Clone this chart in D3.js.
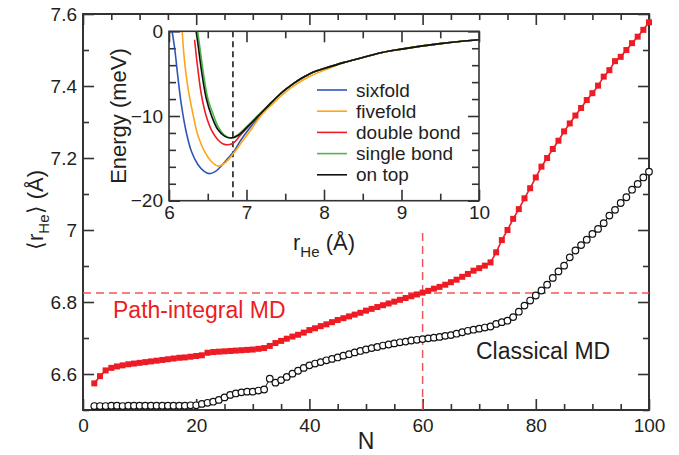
<!DOCTYPE html>
<html>
<head>
<meta charset="utf-8">
<script src="https://cdn.jsdelivr.net/npm/d3@7"></script>
<style>
  body { margin: 0; background: #fff; }
  svg text { font-family: "Liberation Sans", Arial, Helvetica, sans-serif; fill: #231f20; }
</style>
</head>
<body>
<div id="chart"></div>
<script>
// main plot data: N from 2 to 100
var nValues = d3.range(2, 101);
var pimd = [
  6.574, 6.594, 6.610, 6.617, 6.621, 6.624, 6.627, 6.629, 6.631, 6.633,
  6.635, 6.637, 6.639, 6.641, 6.643, 6.645, 6.646, 6.648, 6.650, 6.652,
  6.659, 6.661, 6.662, 6.663, 6.664, 6.665, 6.666, 6.667, 6.668, 6.670,
  6.672, 6.678, 6.686, 6.692, 6.698, 6.704, 6.709, 6.715, 6.722, 6.727,
  6.733, 6.738, 6.744, 6.750, 6.755, 6.760, 6.765, 6.770, 6.776, 6.781,
  6.786, 6.791, 6.796, 6.801, 6.806, 6.811, 6.816, 6.821, 6.826, 6.831,
  6.837, 6.842, 6.848, 6.855, 6.862, 6.870, 6.878, 6.887, 6.894, 6.901,
  6.910, 6.938, 6.972, 7.000, 7.031, 7.058, 7.088, 7.116, 7.146, 7.176,
  7.200, 7.225, 7.248, 7.274, 7.296, 7.318, 7.339, 7.361, 7.380, 7.401,
  7.426, 7.444, 7.469, 7.481, 7.500, 7.519, 7.537, 7.556, 7.577
];
var classical = [
  6.511, 6.511, 6.511, 6.512, 6.512, 6.511, 6.512, 6.512, 6.512, 6.512,
  6.512, 6.512, 6.512, 6.512, 6.512, 6.512, 6.512, 6.513, 6.513, 6.517,
  6.520, 6.523, 6.528, 6.535, 6.542, 6.546, 6.549, 6.551, 6.551, 6.554,
  6.557, 6.587, 6.576, 6.583, 6.592, 6.601, 6.609, 6.617, 6.624, 6.629,
  6.633, 6.638, 6.642, 6.646, 6.651, 6.655, 6.660, 6.664, 6.668, 6.672,
  6.675, 6.679, 6.682, 6.685, 6.688, 6.690, 6.693, 6.695, 6.697, 6.699,
  6.701, 6.703, 6.706, 6.708, 6.712, 6.716, 6.720, 6.723, 6.726, 6.729,
  6.732, 6.739, 6.744, 6.748, 6.758, 6.773, 6.790, 6.804, 6.818, 6.832,
  6.848, 6.867, 6.885, 6.901, 6.924, 6.943, 6.958, 6.973, 6.989, 7.003,
  7.019, 7.040, 7.056, 7.075, 7.091, 7.112, 7.128, 7.146, 7.162
];
var xMajor = [0, 20, 40, 60, 80, 100];
var xMinor = [5, 10, 15, 25, 30, 35, 45, 50, 55, 65, 70, 75, 85, 90, 95];
var yMajor = [6.6, 6.8, 7.0, 7.2, 7.4, 7.6];
var yMajorLabels = ["6.6", "6.8", "7", "7.2", "7.4", "7.6"];
var yMinor = [6.5, 6.7, 6.9, 7.1, 7.3, 7.5];
var rRef = 6.825;   // dashed guide value
var nRef = 60;

// inset: potential curves [r (Å), E (meV)]
var sixfold = [[6.04,0],[6.073,-2.0],[6.116,-5.5],[6.16,-8.7],[6.22,-11.8],[6.29,-14.2],[6.37,-15.7],
  [6.45,-16.5],[6.52,-16.8],[6.59,-16.6],[6.675,-15.9],[6.76,-15.0],[6.85,-14.0],[6.93,-12.8],
  [7.06,-11.2],[7.18,-9.9]];
var fivefold = [[6.17,0],[6.20,-3.5],[6.245,-6.7],[6.31,-9.8],[6.37,-12.2],[6.46,-14.2],[6.55,-15.4],
  [6.63,-15.9],[6.70,-15.7],[6.78,-15.0],[6.85,-14.2],[6.93,-13.2],[7.06,-11.6],[7.19,-9.9],
  [7.3,-8.9],[7.45,-7.6],[7.6,-6.5],[7.8,-5.4],[8.0,-4.6]];
var doubleBond = [[6.33,-1.0],[6.37,-4.3],[6.42,-7.6],[6.48,-10.0],[6.55,-11.7],[6.63,-12.8],
  [6.70,-13.3],[6.76,-13.4],[6.83,-13.2],[6.91,-12.4],[7.02,-11.3],[7.15,-10.0]];
var singleBond = [[6.37,0],[6.40,-2.0],[6.44,-4.7],[6.50,-7.9],[6.57,-9.8],[6.63,-11.2],[6.72,-12.3],
  [6.80,-12.6],[6.89,-12.2],[7.02,-11.1],[7.15,-9.9]];
var onTop = [[6.35,0],[6.375,-1.6],[6.42,-4.7],[6.48,-7.9],[6.55,-10.0],[6.63,-11.6],[6.72,-12.4],
  [6.80,-12.6],[6.89,-12.3],[7.02,-11.2],[7.15,-10.0]];
// long-range part shared by all sites
var tail = [[7.3,-8.6],[7.4,-7.7],[7.5,-6.9],[7.6,-6.2],[7.7,-5.6],[7.8,-5.1],[7.9,-4.7],[8.0,-4.4],
  [8.25,-3.7],[8.5,-3.1],[8.75,-2.5],[9.0,-2.1],[9.25,-1.75],[9.5,-1.45],[9.75,-1.2],[10.0,-1.0]];
var siteNames = ["sixfold", "fivefold", "double bond", "single bond", "on top"];
var siteColors = ["#2f55b8", "#ffa516", "#ee1c25", "#4cb848", "#111111"];
var ixMajor = [6, 7, 8, 9, 10];
var ixMinor = [6.5, 7.5, 8.5, 9.5];
var iyMajor = [-20, -10, 0];
var iyMinor = [-18, -16, -14, -12, -8, -6, -4, -2];

var width = 679, height = 455;
var red = "#ed1c24";

var svg = d3.select("#chart").append("svg")
  .attr("width", width)
  .attr("height", height);

var x = d3.scaleLinear().domain([0, 100]).range([83, 649]);
var y = d3.scaleLinear().domain([6.5, 7.6]).range([410, 14]);

function ticks(g, axis, vals, size, fmt) {
  g.call(axis.tickValues(vals).tickSize(size).tickSizeOuter(0).tickFormat(fmt || ""));
  g.attr("font-size", 19).attr("font-family", null);
  g.select(".domain").remove();
  g.selectAll(".tick line").attr("stroke", "#333").attr("stroke-width", 1.6);
  g.selectAll(".tick text").attr("fill", "#231f20");
  return g;
}

// main axes, ticks point inward
var ax = svg.append("g");
ticks(ax.append("g").attr("transform", "translate(0,410)"), d3.axisBottom(x), xMinor, -6);
ticks(ax.append("g").attr("transform", "translate(0,410)"), d3.axisBottom(x), xMajor, -11, d3.format("d"))
  .selectAll(".tick text").attr("y", 9).attr("dy", "0.71em");
ticks(ax.append("g").attr("transform", "translate(0,14)"), d3.axisTop(x), xMinor, -6);
ticks(ax.append("g").attr("transform", "translate(0,14)"), d3.axisTop(x), xMajor, -11);
ticks(ax.append("g").attr("transform", "translate(83,0)"), d3.axisLeft(y), yMinor, -6);
ticks(ax.append("g").attr("transform", "translate(83,0)"), d3.axisLeft(y), yMajor, -11, function(d, i) { return yMajorLabels[i]; })
  .selectAll(".tick text").attr("x", -6);
ticks(ax.append("g").attr("transform", "translate(649,0)"), d3.axisRight(y), yMinor, -6);
ticks(ax.append("g").attr("transform", "translate(649,0)"), d3.axisRight(y), yMajor, -11);

svg.append("rect")
  .attr("x", 83).attr("y", 14).attr("width", 566).attr("height", 396)
  .attr("fill", "none").attr("stroke", "#333").attr("stroke-width", 2);

// dashed guides
svg.append("line")
  .attr("x1", x(0)).attr("x2", x(100)).attr("y1", y(rRef)).attr("y2", y(rRef))
  .attr("stroke", "#f0555b").attr("stroke-width", 1.5).attr("stroke-dasharray", "8,5");
svg.append("line")
  .attr("x1", x(nRef)).attr("x2", x(nRef)).attr("y1", y(6.5)).attr("y2", y(7.0))
  .attr("stroke", "#f0555b").attr("stroke-width", 1.5).attr("stroke-dasharray", "8,5");

// classical MD: open circles
var line = d3.line().x(function(d) { return x(d[0]); }).y(function(d) { return y(d[1]); });
var clPts = nValues.map(function(n, i) { return [n, classical[i]]; });
var piPts = nValues.map(function(n, i) { return [n, pimd[i]]; });

svg.append("path").datum(clPts).attr("d", line)
  .attr("fill", "none").attr("stroke", "#111").attr("stroke-width", 1);
svg.append("g").selectAll("circle").data(clPts).enter().append("circle")
  .attr("cx", function(d) { return x(d[0]); })
  .attr("cy", function(d) { return y(d[1]); })
  .attr("r", 3.3)
  .attr("fill", "#fff").attr("stroke", "#111").attr("stroke-width", 1.2);

// path-integral MD: filled squares
svg.append("path").datum(piPts).attr("d", line)
  .attr("fill", "none").attr("stroke", red).attr("stroke-width", 1.6);
svg.append("g").selectAll("rect").data(piPts).enter().append("rect")
  .attr("x", function(d) { return x(d[0]) - 3; })
  .attr("y", function(d) { return y(d[1]) - 3; })
  .attr("width", 6).attr("height", 6)
  .attr("fill", red);

svg.append("text").attr("x", 113).attr("y", 318).attr("font-size", 23)
  .style("fill", red).text("Path-integral MD");
svg.append("text").attr("x", 476).attr("y", 359).attr("font-size", 23)
  .text("Classical MD");

// axis titles
svg.append("text").attr("x", x(50)).attr("y", 449).attr("text-anchor", "middle")
  .attr("font-size", 23).text("N");
var yl = svg.append("text").attr("transform", "translate(43,210) rotate(-90)")
  .attr("text-anchor", "middle").attr("font-size", 22);
yl.append("tspan").text("\u27E8r");
yl.append("tspan").attr("font-size", 15).attr("dy", 6).text("He");
yl.append("tspan").attr("dy", -6).text("\u27E9 (\u00C5)");

// ---------- inset ----------
var ix = d3.scaleLinear().domain([6, 10]).range([169, 479]);
var iy = d3.scaleLinear().domain([-20, 0]).range([200.7, 31.3]);
var inset = svg.append("g");

inset.append("rect").attr("x", 169).attr("y", 31.3).attr("width", 310).attr("height", 169.4)
  .attr("fill", "#fff");
inset.append("clipPath").attr("id", "iclip").append("rect")
  .attr("x", 169).attr("y", 31.3).attr("width", 310).attr("height", 169.4);

var iax = inset.append("g");
ticks(iax.append("g").attr("transform", "translate(0,200.7)"), d3.axisBottom(ix), ixMinor, -7);
ticks(iax.append("g").attr("transform", "translate(0,200.7)"), d3.axisBottom(ix), ixMajor, -11, d3.format("d"))
  .selectAll(".tick text").attr("y", 5).attr("dy", "0.71em");
ticks(iax.append("g").attr("transform", "translate(0,31.3)"), d3.axisTop(ix), ixMinor, -7);
ticks(iax.append("g").attr("transform", "translate(0,31.3)"), d3.axisTop(ix), ixMajor, -11);
ticks(iax.append("g").attr("transform", "translate(169,0)"), d3.axisLeft(iy), iyMinor, -7);
ticks(iax.append("g").attr("transform", "translate(169,0)"), d3.axisLeft(iy), iyMajor, -11, d3.format("d"))
  .selectAll(".tick text").attr("x", -6);
ticks(iax.append("g").attr("transform", "translate(479,0)"), d3.axisRight(iy), iyMinor, -7);
ticks(iax.append("g").attr("transform", "translate(479,0)"), d3.axisRight(iy), iyMajor, -11);

inset.append("line")
  .attr("x1", ix(rRef)).attr("x2", ix(rRef)).attr("y1", 31.3).attr("y2", 200.7)
  .attr("stroke", "#111").attr("stroke-width", 1.5).attr("stroke-dasharray", "6,4");

var iline = d3.line().curve(d3.curveCatmullRom)
  .x(function(d) { return ix(d[0]); }).y(function(d) { return iy(d[1]); });
var curves = [sixfold, fivefold, doubleBond, singleBond, onTop];
curves.forEach(function(c, i) {
  var pts = c.concat(tail.filter(function(t) { return t[0] > c[c.length - 1][0] + 0.05; }));
  inset.append("path").datum(pts).attr("d", iline)
    .attr("clip-path", "url(#iclip)")
    .attr("fill", "none").attr("stroke", siteColors[i]).attr("stroke-width", 1.6);
});

inset.append("rect").attr("x", 169).attr("y", 31.3).attr("width", 310).attr("height", 169.4)
  .attr("fill", "none").attr("stroke", "#333").attr("stroke-width", 1.6);

// legend
var leg = inset.append("g").selectAll("g").data(siteNames).enter().append("g")
  .attr("transform", function(d, i) { return "translate(317," + (90 + i * 21.2) + ")"; });
leg.append("line").attr("x1", 0).attr("x2", 30)
  .attr("stroke", function(d, i) { return siteColors[i]; }).attr("stroke-width", 1.6);
leg.append("text").attr("x", 39).attr("dy", "0.35em").attr("font-size", 19)
  .text(function(d) { return d; });

// inset axis titles
var il = inset.append("text").attr("x", ix(8)).attr("y", 250).attr("text-anchor", "middle")
  .attr("font-size", 22);
il.append("tspan").text("r");
il.append("tspan").attr("font-size", 15).attr("dy", 7).text("He");
il.append("tspan").attr("dy", -7).text(" (\u00C5)");
inset.append("text").attr("transform", "translate(126,116) rotate(-90)")
  .attr("text-anchor", "middle").attr("font-size", 22).text("Energy (meV)");
</script>
</body>
</html>
